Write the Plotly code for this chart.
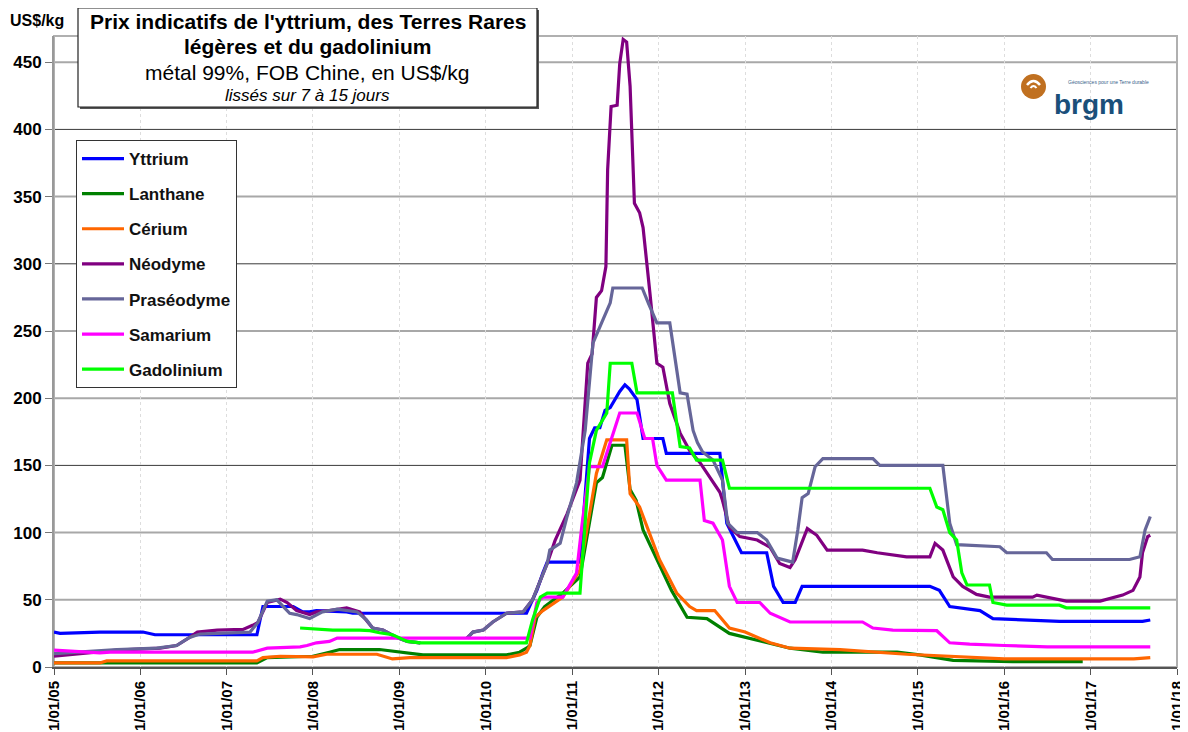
import plotly.graph_objects as go
import pandas as pd

# ---------------- data (decimal years / US$ per kg) ----------------
TICK_YEARS = list(range(2005, 2019))
TICK_LABELS = ["1/01/%02d" % (y % 100) for y in TICK_YEARS]
Y_TICKS = [0, 50, 100, 150, 200, 250, 300, 350, 400, 450]

yttrium_t = [2005.0, 2005.07, 2005.53, 2006.03, 2006.17, 2007.35, 2007.42, 2007.77, 2007.88,
             2007.96, 2008.04, 2008.39, 2008.46, 2010.47, 2010.54, 2010.59, 2010.66, 2010.71,
             2011.09, 2011.20, 2011.26, 2011.32, 2011.38, 2011.44, 2011.55, 2011.61, 2011.66,
             2011.75, 2011.82, 2012.05, 2012.09, 2012.71, 2012.79, 2012.96, 2013.25, 2013.33,
             2013.44, 2013.58, 2013.66, 2015.14, 2015.25, 2015.37, 2015.72, 2015.87, 2016.64,
             2017.60, 2017.69]
yttrium_v = [26, 25, 26, 26, 24, 24, 45, 45, 41,
             41, 42, 41, 40, 40, 50, 57, 70, 78,
             78, 170, 178, 178, 191, 193, 205, 210, 207,
             199, 170, 170, 159, 159, 107, 85, 85, 60,
             48, 48, 60, 60, 57, 45, 42, 36, 34,
             34, 35]

lanthane_t = [2005.0, 2007.35, 2007.47, 2008.0, 2008.19, 2008.31, 2008.77, 2009.09, 2009.27,
              2010.24, 2010.39, 2010.47, 2010.51, 2010.59, 2010.68, 2010.89, 2011.09, 2011.28,
              2011.35, 2011.46, 2011.61, 2011.67, 2011.74, 2011.82, 2012.05, 2012.15, 2012.33,
              2012.56, 2012.82, 2013.0, 2013.25, 2013.52, 2013.90, 2014.76, 2015.02, 2015.41,
              2016.10, 2016.91]
lanthane_v = [3, 3, 7, 8, 11, 13, 13, 10.5, 9,
              9, 11, 14, 16, 37, 45, 55, 67, 137,
              141, 165, 165, 132, 124, 102, 70, 57, 37,
              36, 25, 22, 18, 14, 11, 11, 9, 5,
              4, 4]

cerium_t = [2005.0, 2005.53, 2005.61, 2007.35, 2007.42, 2007.62, 2008.0, 2008.16, 2008.74,
            2008.92, 2009.12, 2010.24, 2010.39, 2010.47, 2010.51, 2010.57, 2010.66, 2010.89,
            2011.09, 2011.28, 2011.40, 2011.63, 2011.67, 2011.78, 2012.01, 2012.21, 2012.36,
            2012.44, 2012.65, 2012.82, 2013.0, 2013.14, 2013.29, 2013.52, 2014.10, 2014.87,
            2015.45, 2016.0, 2017.50, 2017.69]
cerium_v = [3, 3, 4.5, 4.5, 7, 8, 7.5, 9.5, 9.5,
            6, 7, 7, 9, 11, 16, 37, 42, 52,
            72, 144, 169, 169, 129, 119, 80, 55, 45,
            42, 42, 29, 26, 22, 18, 14, 13, 9.5,
            7.5, 6, 6, 7]

neodyme_t = [2005.0, 2005.53, 2005.73, 2006.23, 2006.42, 2006.57, 2006.66, 2006.89, 2007.19,
             2007.30, 2007.36, 2007.47, 2007.62, 2007.70, 2007.81, 2007.96, 2008.04, 2008.19,
             2008.39, 2008.54, 2008.62, 2008.69, 2008.81, 2008.97, 2009.09, 2009.24, 2009.50,
             2009.78, 2009.85, 2009.97, 2010.08, 2010.24, 2010.43, 2010.54, 2010.63, 2010.71,
             2010.80, 2010.94, 2011.09, 2011.18, 2011.23, 2011.28, 2011.34, 2011.39, 2011.41,
             2011.45, 2011.52, 2011.55, 2011.59, 2011.63, 2011.67, 2011.72, 2011.78, 2011.82,
             2011.90, 2011.98, 2012.05, 2012.13, 2012.25, 2012.36, 2012.48, 2012.71, 2012.74,
             2012.82, 2012.94, 2013.14, 2013.29, 2013.40, 2013.52, 2013.58, 2013.72, 2013.83,
             2013.95, 2014.36, 2014.53, 2014.87, 2015.14, 2015.20, 2015.29, 2015.41, 2015.52,
             2015.68, 2015.83, 2016.33, 2016.38, 2016.56, 2016.72, 2017.11, 2017.22, 2017.37,
             2017.49, 2017.57, 2017.60, 2017.66, 2017.69]
neodyme_v = [8, 11, 12.5, 14, 16, 22, 26, 27.5, 28,
             31, 33, 48, 50.5, 48, 42, 39, 41, 42,
             44, 41, 35, 29, 27.5, 22, 19, 18, None,
             21.5, 26, 27.5, 33.5, 40, 41, 50, 65, 77,
             94, 114, 139, 226, 233, 275, 280, 298, 370,
             417, 418, 449, 467, 465, 432, 345, 338, 327,
             278, 226, 223, 196, 174, 161, 152, 130, 124,
             104, 97, 94.5, 89, 77, 74, 80, 103, 98,
             87, 87, 85, 82, 82, 92, 87, 67, 60,
             54, 52, 52, 53.5, 51, 49, 49, 51, 53.5,
             57, 67, 85, 97, 98]

praseo_t = [2005.0, 2005.53, 2005.73, 2006.19, 2006.42, 2006.57, 2006.69, 2006.89, 2007.27,
            2007.36, 2007.47, 2007.58, 2007.73, 2007.81, 2007.96, 2008.11, 2008.28, 2008.51,
            2008.62, 2008.69, 2008.81, 2008.97, 2009.09, 2009.24, 2009.50, 2009.78, 2009.85,
            2009.97, 2010.08, 2010.24, 2010.43, 2010.54, 2010.63, 2010.71, 2010.74, 2010.86,
            2010.94, 2011.05, 2011.15, 2011.20, 2011.24, 2011.34, 2011.44, 2011.47, 2011.81,
            2011.88, 2011.98, 2012.13, 2012.25, 2012.33, 2012.40, 2012.45, 2012.51, 2012.63,
            2012.74, 2012.80, 2012.91, 2013.14, 2013.25, 2013.37, 2013.55, 2013.61, 2013.66,
            2013.73, 2013.81, 2013.90, 2014.48, 2014.56, 2015.29, 2015.37, 2015.45, 2015.95,
            2016.03, 2016.49, 2016.56, 2017.45, 2017.57, 2017.63, 2017.69]
praseo_v = [10, 12, 13, 14, 16, 22, 24.5, 25, 26,
            33, 49, 50, 40, 39, 36, 41, 43, 41,
            35, 29, 27.5, 22, 19, 18, None, 21.5, 26,
            27.5, 33.5, 40, 41, 50, 65, 77, 87, 92,
            112, 137, 176, 215, 241, 256, 271, 282, 282,
            271, 256, 256, 204, 203, 176, 167, 160, 154,
            139, 107, 100, 100, 94.5, 81, 78, 102, 126,
            129, 149, 155, 155, 150, 150, 107, 91, 89.5,
            85, 85, 80, 80, 82, 102, 112]

samarium_t = [2005.0, 2005.53, 2005.65, 2007.30, 2007.47, 2007.85, 2007.93, 2008.04, 2008.19,
              2008.28, 2010.51, 2010.59, 2010.66, 2010.89, 2011.05, 2011.11, 2011.20, 2011.35,
              2011.44, 2011.55, 2011.75, 2011.84, 2011.93, 2011.98, 2012.09, 2012.48, 2012.53,
              2012.63, 2012.74, 2012.82, 2012.91, 2013.17, 2013.29, 2013.40, 2013.52, 2014.36,
              2014.48, 2014.71, 2015.22, 2015.37, 2015.60, 2016.0, 2016.50, 2017.69]
samarium_v = [12.5, 10.5, 11, 11, 14, 15, 16, 18, 19,
              21.5, 21.5, 48, 52, 52, 70, 104, 149, 149,
              167, 189, 189, 170, 170, 150, 139, 139, 109,
              107, 94.5, 60, 48, 48, 40, 37, 33.5, 33.5,
              29, 27.5, 27, 18, 17, 16, 15, 15]

gadolinium_t = [2007.85, 2008.23, 2008.54, 2008.66, 2008.77, 2008.92, 2009.09, 2009.24, 2010.47,
                2010.54, 2010.63, 2010.71, 2011.09, 2011.20, 2011.28, 2011.40, 2011.44, 2011.69,
                2011.75, 2012.16, 2012.25, 2012.36, 2012.44, 2012.74, 2012.82, 2015.14, 2015.22,
                2015.29, 2015.37, 2015.45, 2015.51, 2015.57, 2015.83, 2015.87, 2016.03, 2016.64,
                2016.72, 2017.69]
gadolinium_v = [29, 27.5, 27.5, 27, 25.5, 24, 19, 18, 18,
                35, 52, 55, 55, 152, 176, 189, 226, 226,
                204, 204, 164, 163, 154, 154, 133, 133, 119,
                117, 100, 94.5, 70, 61, 61, 48, 46, 46,
                44, 44]

SERIES = [
    ("Yttrium", yttrium_t, yttrium_v, "#0000FF"),
    ("Lanthane", lanthane_t, lanthane_v, "#008000"),
    ("Cérium", cerium_t, cerium_v, "#FF6600"),
    ("Néodyme", neodyme_t, neodyme_v, "#800080"),
    ("Praséodyme", praseo_t, praseo_v, "#666699"),
    ("Samarium", samarium_t, samarium_v, "#FF00FF"),
    ("Gadolinium", gadolinium_t, gadolinium_v, "#00FF00"),
]


def to_date(t):
    y = int(t)
    return pd.Timestamp(year=y, month=1, day=1) + pd.Timedelta(days=(t - y) * 365.25)


FONT = "Arial, 'Liberation Sans', sans-serif"

fig = go.Figure()
for i, (name, ts, vs, col) in enumerate(SERIES):
    fig.add_trace(go.Scatter(
        x=[to_date(t) for t in ts], y=vs, mode="lines", name=name,
        legendgroup="g%d" % i, connectgaps=False,
        line=dict(color=col, width=3.2)))

# ---------------- layout geometry ----------------
# The page body has an 8px margin, so the figure is drawn 8px in from the top-left.
OFF = 8
W, H = 1188 - OFF, 732 - OFF
SL, SR, ST, SB = 54, 1177, 36, 667   # plot area in screen pixels


def px(x):
    return (x - SL) / (SR - SL)


def py(y):
    return (SB - y) / (SB - ST)


YMAX = 469.5
shapes = []
# horizontal gridlines
for v in Y_TICKS[1:]:
    dark = v in (150, 300, 400)
    shapes.append(dict(type="line", xref="paper", yref="y", x0=0, x1=1, y0=v, y1=v,
                       line=dict(color="#3a3a3a" if dark else "#a8a8a8", width=1 if dark else 2),
                       layer="below"))
# frame
shapes.append(dict(type="rect", xref="paper", yref="paper", x0=0, x1=1, y0=0, y1=1,
                   line=dict(color="#b0b0b0", width=2), layer="below"))
# logo background
shapes.append(dict(type="rect", xref="paper", yref="paper", x0=px(1015), x1=px(1156),
                   y0=py(127), y1=py(64), fillcolor="white", line=dict(width=0), layer="below"))
# title box shadow + box
shapes.append(dict(type="rect", xref="paper", yref="paper", x0=px(80), x1=px(539),
                   y0=py(109), y1=py(10), fillcolor="#555555", line=dict(width=0)))
shapes.append(dict(type="rect", xref="paper", yref="paper", x0=px(78), x1=px(537),
                   y0=py(107), y1=py(8), fillcolor="white", line=dict(color="#222222", width=1.2)))
# logo circle
shapes.append(dict(type="circle", xref="paper", yref="paper", x0=px(1021), x1=px(1046),
                   y0=py(99), y1=py(74), fillcolor="#C07020", line=dict(width=0)))
shapes.append(dict(type="path", xref="paper", yref="paper",
                   path="M %f %f Q %f %f %f %f" % (px(1027), py(85), px(1033.5), py(77), px(1040), py(85)),
                   line=dict(color="white", width=2.5)))
shapes.append(dict(type="path", xref="paper", yref="paper",
                   path="M %f %f Q %f %f %f %f" % (px(1030.5), py(88), px(1033.5), py(84), px(1036.5), py(88)),
                   line=dict(color="white", width=2)))

cx = px((78 + 537) / 2)
annotations = [
    dict(text="<b>Prix indicatifs de l'yttrium, des Terres Rares</b>", x=cx, y=py(22),
         font=dict(size=21, family=FONT, color="black")),
    dict(text="<b>légères et du gadolinium</b>", x=cx, y=py(46),
         font=dict(size=21, family=FONT, color="black")),
    dict(text="métal 99%, FOB Chine, en US$/kg", x=cx, y=py(72),
         font=dict(size=21, family=FONT, color="black")),
    dict(text="<i>lissés sur 7 à 15 jours</i>", x=cx, y=py(95),
         font=dict(size=17, family=FONT, color="black")),
    dict(text="<b>US$/kg</b>", x=px(8), y=py(20), xanchor="left",
         font=dict(size=16, family=FONT, color="black")),
    dict(text="<b>brgm</b>", x=px(1052), y=py(104), xanchor="left",
         font=dict(size=28, family=FONT, color="#1A4F7A")),
    dict(text="Géosciences pour une Terre durable", x=px(1066), y=py(82), xanchor="left",
         font=dict(size=5, family=FONT, color="#3A5F8A")),
]
for a in annotations:
    a.update(xref="paper", yref="paper", showarrow=False)
    a.setdefault("xanchor", "center")
    a.setdefault("yanchor", "middle")

fig.update_layout(
    width=W, height=H,
    margin=dict(l=SL - OFF, r=W - (SR - OFF), t=ST - OFF, b=H - (SB - OFF), autoexpand=False),
    paper_bgcolor="white", plot_bgcolor="white",
    font=dict(family=FONT, color="black"),
    showlegend=True,
    legend=dict(x=px(76), y=py(140), xanchor="left", yanchor="top",
                bgcolor="white", bordercolor="#333333", borderwidth=1,
                font=dict(size=17, family=FONT, color="#111111", weight="bold"),
                tracegroupgap=10, itemwidth=42),
    shapes=shapes, annotations=annotations,
    xaxis=dict(type="date", range=[to_date(2005), to_date(2018)], automargin=False,
               tickvals=[to_date(y) for y in TICK_YEARS], ticktext=TICK_LABELS,
               tickangle=-90, ticks="outside", ticklen=6, tickcolor="#555555",
               tickfont=dict(size=15, family=FONT, color="black", weight="bold"),
               showgrid=True, gridcolor="#dddddd", griddash="dot", gridwidth=1,
               showline=True, linecolor="#555555", linewidth=2, zeroline=False),
    yaxis=dict(range=[0, YMAX], tickvals=Y_TICKS, ticks="outside", ticklen=7,
               tickcolor="#777777", automargin=False,
               tickfont=dict(size=17, family=FONT, color="black", weight="bold"),
               showgrid=False, showline=True, linecolor="#999999", linewidth=2,
               zeroline=False),
)

fig.write_html("out.html")
